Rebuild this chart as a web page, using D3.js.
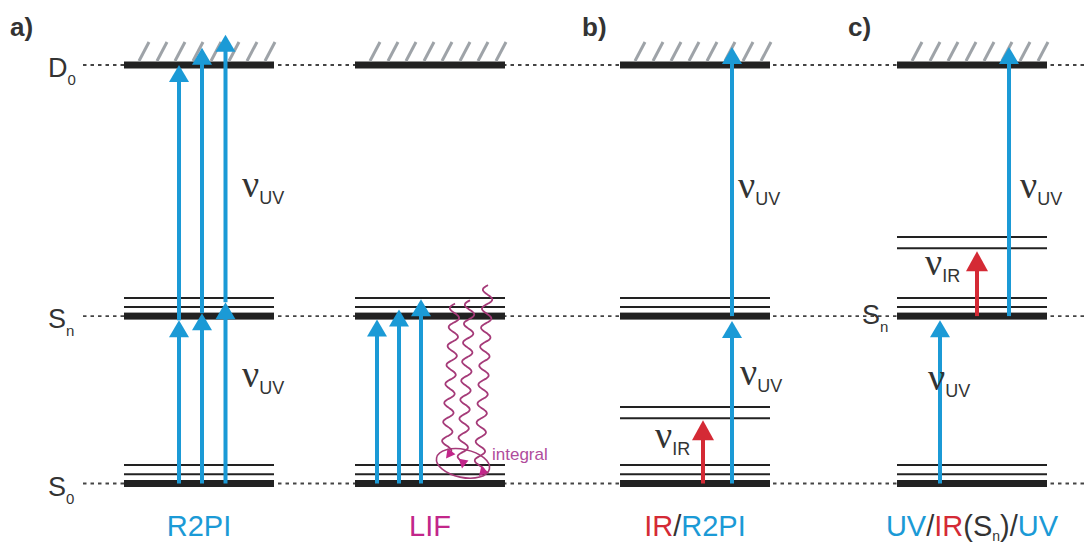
<!DOCTYPE html>
<html>
<head>
<meta charset="utf-8">
<script src="https://cdn.jsdelivr.net/npm/d3@7"></script>
<style>
  body { margin: 0; background: #fff; }
  svg { display: block; }
</style>
</head>
<body>
<div id="chart"></div>
<script>
// energies in arbitrary units: S0 = 0, Sn = 40, D0 = 100
const levelNames = ["D", "S", "S"];
const levelSubs = ["0", "n", "0"];
const levelEnergies = [100, 40, 0];
const s0Vib = [2.2, 4.4];
const snVib = [42.2, 44.3];

const panelCenters = [199, 430, 695, 972];
const panelLetters = ["a)", "b)", "c)"];
const letterX = [10, 582, 848];
const extraLevels = [[], [], [15.6, 18.3], [56.2, 58.9]];

// arrows (panel, x offset from panel centre, from energy, to energy, kind)
const arrowPanel  = [0, 0, 0, 0, 0, 0, 1, 1, 1, 2, 2, 2, 3, 3, 3];
const arrowOffset = [-20, 3, 26.5, -20, 3, 26.5, -53, -31, -9, 37, 37, 8, -32, 5, 37];
const arrowFrom   = [0, 0, 0, 39, 40.7, 43.3, 0, 0, 0, 0, 40, 0, 0, 40, 40];
const arrowTo     = [39, 40.7, 43.3, 100, 104.1, 107.2, 39.2, 41.6, 44, 38.8, 104.3, 15.1, 39, 55.5, 104.3];
const arrowKind   = ["uv", "uv", "uv", "uv", "uv", "uv", "uv", "uv", "uv", "uv", "uv", "ir", "uv", "ir", "uv"];

// fluorescence (LIF panel): offsets and energies of start / end
const fluoStartOffset = [25, 40, 58];
const fluoStartE = [43, 43.8, 47.4];
const fluoEndOffset = [16, 32, 49];
const fluoEndE = [6, 3.6, 1.8];

// photon labels (panel, x offset, baseline energy, subscript)
const nuPanel  = [0, 0, 2, 2, 2, 3, 3, 3];
const nuOffset = [43, 43, 43, 45, -40, 48, -44, -47];
const nuE      = [68.5, 23, 68.2, 23.5, 8.5, 68.2, 22.3, 49.8];
const nuSub    = ["UV", "UV", "UV", "UV", "IR", "UV", "UV", "IR"];

const colors = {
  uv: "#1b9ad6",
  ir: "#d42a35",
  lif: "#c2268a",
  wave: "#a53a78",
  text: "#333333",
  level: "#222222",
  hatch: "#9ea3a8",
};

const width = 1088, height = 546;
const barWidth = 150;

const svg = d3.select("#chart").append("svg")
  .attr("width", width)
  .attr("height", height);

const y = d3.scaleLinear().domain([0, 100]).range([483.5, 65]);
const x = d3.scaleLinear().domain([0, width]).range([0, width]);

// dotted reference lines
svg.append("g")
  .selectAll("line")
  .data(levelEnergies)
  .join("line")
  .attr("x1", x(83))
  .attr("x2", x(width))
  .attr("y1", d => y(d))
  .attr("y2", d => y(d))
  .attr("stroke", "#444")
  .attr("stroke-width", 1.8)
  .attr("stroke-dasharray", "3.5,4");

// level labels
const lvlLabels = svg.append("g")
  .attr("font-family", "Liberation Sans, Arial, sans-serif")
  .attr("fill", colors.text);

levelNames.forEach((name, i) => {
  const t = lvlLabels.append("text")
    .attr("x", x(48))
    .attr("y", y(levelEnergies[i]) + 12)
    .attr("font-size", 27);
  t.append("tspan").text(name);
  t.append("tspan").attr("font-size", 15).attr("dy", 8).text(levelSubs[i]);
});

// Sn label in panel c sits on the dotted line
{
  const t = lvlLabels.append("text")
    .attr("x", x(862))
    .attr("y", y(40) + 8)
    .attr("font-size", 27);
  t.append("tspan").text("S");
  t.append("tspan").attr("font-size", 15).attr("dy", 8).text("n");
}

// energy levels for every panel
panelCenters.forEach((c, p) => {
  const g = svg.append("g");
  const x0 = x(c - barWidth / 2), x1 = x(c + barWidth / 2);

  const thin = s0Vib.concat(snVib, extraLevels[p]);
  g.selectAll("line.thin")
    .data(thin)
    .join("line")
    .attr("class", "thin")
    .attr("x1", x0).attr("x2", x1)
    .attr("y1", d => y(d)).attr("y2", d => y(d))
    .attr("stroke", colors.level)
    .attr("stroke-width", 2);

  g.selectAll("rect")
    .data(levelEnergies)
    .join("rect")
    .attr("x", x0)
    .attr("width", x1 - x0)
    .attr("y", d => y(d) - 3.5)
    .attr("height", 7)
    .attr("fill", colors.level);

  // hatching above the ionisation limit
  const hatch = d3.range(8).map(i => x0 + 15 + i * 18);
  g.selectAll("line.hatch")
    .data(hatch)
    .join("line")
    .attr("class", "hatch")
    .attr("x1", d => d).attr("x2", d => d + 10)
    .attr("y1", y(100) - 4).attr("y2", y(100) - 23)
    .attr("stroke", colors.hatch)
    .attr("stroke-width", 3);
});

// fluorescence wavy lines
function wavyPoints(x0, y0, x1, y1) {
  const len = Math.hypot(x1 - x0, y1 - y0);
  const ux = (x1 - x0) / len, uy = (y1 - y0) / len;
  const nx = -uy, ny = ux;
  return d3.range(0, len - 6, 1).map(s => {
    const a = 5 * Math.sin(2 * Math.PI * s / 19);
    return [x0 + ux * s + nx * a, y0 + uy * s + ny * a];
  });
}

const fluo = svg.append("g");
fluoStartE.forEach((e, i) => {
  const xs = x(panelCenters[1] + fluoStartOffset[i]), ys = y(e);
  const xe = x(panelCenters[1] + fluoEndOffset[i]), ye = y(fluoEndE[i]);
  const pts = wavyPoints(xs, ys, xe, ye);
  fluo.append("path")
    .attr("d", d3.line().curve(d3.curveBasis)(pts))
    .attr("fill", "none")
    .attr("stroke", colors.wave)
    .attr("stroke-width", 1.8);
  const last = pts[pts.length - 1];
  const ang = Math.atan2(ye - last[1], xe - last[0]) * 180 / Math.PI;
  fluo.append("path")
    .attr("d", "M0,0 L-9,-5 L-9,5 Z")
    .attr("transform", `translate(${xe},${ye}) rotate(${ang})`)
    .attr("fill", colors.lif);
});

fluo.append("ellipse")
  .attr("cx", x(panelCenters[1] + 33))
  .attr("cy", y(4.8))
  .attr("rx", 27)
  .attr("ry", 14)
  .attr("transform", `rotate(12,${x(panelCenters[1] + 33)},${y(4.8)})`)
  .attr("fill", "none")
  .attr("stroke", colors.wave)
  .attr("stroke-width", 1.6);

fluo.append("text")
  .attr("x", x(panelCenters[1] + 62))
  .attr("y", y(5.5))
  .attr("font-family", "Liberation Sans, Arial, sans-serif")
  .attr("font-size", 17)
  .attr("fill", "#b04c9c")
  .text("integral");

// excitation arrows
const arrows = svg.append("g");
arrowPanel.forEach((p, i) => {
  const ax = x(panelCenters[p] + arrowOffset[i]);
  const y0 = y(arrowFrom[i]), y1 = y(arrowTo[i]);
  const col = colors[arrowKind[i]];
  const headLen = arrowKind[i] == "ir" ? 20 : 17;
  const headW = arrowKind[i] == "ir" ? 11 : 10;
  arrows.append("line")
    .attr("x1", ax).attr("x2", ax)
    .attr("y1", y0).attr("y2", y1 + headLen - 2)
    .attr("stroke", col)
    .attr("stroke-width", 4);
  arrows.append("path")
    .attr("d", `M${ax},${y1} L${ax - headW},${y1 + headLen} L${ax + headW},${y1 + headLen} Z`)
    .attr("fill", col);
});

// photon labels
const nus = svg.append("g").attr("fill", colors.text);
nuPanel.forEach((p, i) => {
  const t = nus.append("text")
    .attr("x", x(panelCenters[p] + nuOffset[i]))
    .attr("y", y(nuE[i]));
  t.append("tspan")
    .attr("font-family", "Liberation Serif, Times New Roman, serif")
    .attr("font-size", 38)
    .text("\u03BD");
  t.append("tspan")
    .attr("font-family", "Liberation Sans, Arial, sans-serif")
    .attr("font-size", 18)
    .attr("dy", 7)
    .text(nuSub[i]);
});

// panel letters
svg.append("g")
  .selectAll("text")
  .data(panelLetters)
  .join("text")
  .attr("x", (d, i) => x(letterX[i]))
  .attr("y", 36)
  .attr("font-family", "Liberation Sans, Arial, sans-serif")
  .attr("font-weight", "bold")
  .attr("font-size", 26)
  .attr("fill", colors.text)
  .text(d => d);

// method names, coloured by part
const methodParts = [
  [["R2PI", "uv"]],
  [["LIF", "lif"]],
  [["IR", "ir"], ["/", "text"], ["R2PI", "uv"]],
  [["UV", "uv"], ["/", "text"], ["IR", "ir"], ["(S", "text"], ["n", "sub"], [")/", "text"], ["UV", "uv"]],
];

methodParts.forEach((parts, p) => {
  const t = svg.append("text")
    .attr("x", x(panelCenters[p]))
    .attr("y", 536)
    .attr("text-anchor", "middle")
    .attr("font-family", "Liberation Sans, Arial, sans-serif")
    .attr("font-size", 29);
  let shifted = false;
  parts.forEach(([s, k]) => {
    const ts = t.append("tspan").text(s);
    if (k == "sub") {
      ts.attr("font-size", 14).attr("dy", 5).attr("fill", colors.text);
      shifted = true;
    } else {
      ts.attr("fill", colors[k]);
      if (shifted) { ts.attr("dy", -5); shifted = false; }
    }
  });
});
</script>
</body>
</html>
